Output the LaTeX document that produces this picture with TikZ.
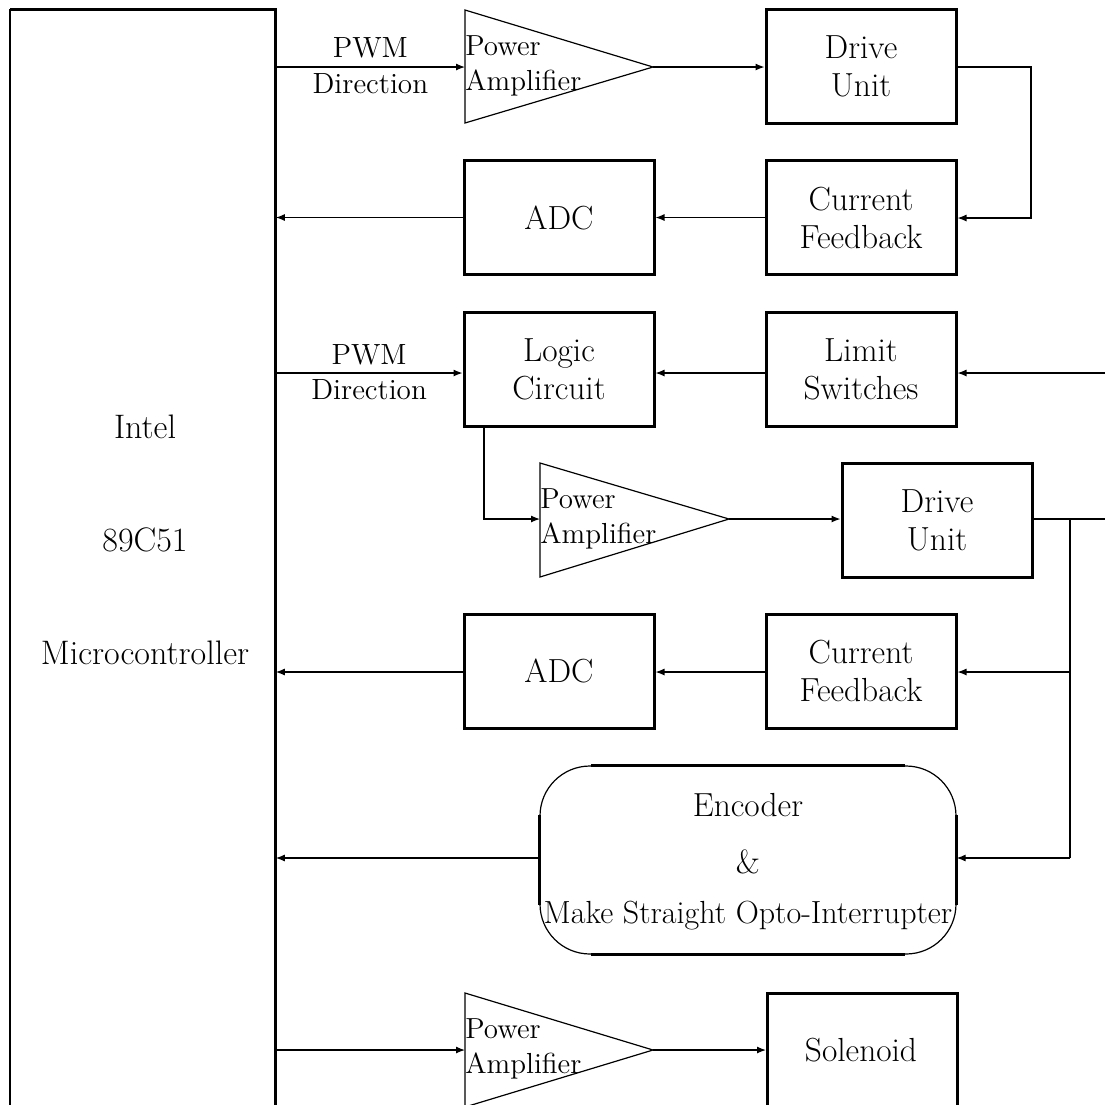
\documentclass[tikz,border=0pt]{standalone}
\usepackage{fontspec}
\usetikzlibrary{arrows.meta}
\begin{document}
\begin{tikzpicture}[x=0.5pt,y=-0.5pt,
 box/.style={draw,line width=1.5pt,minimum width=95pt,minimum height=57pt,align=center,inner sep=0pt,font=\fontsize{16.7}{19}\selectfont},
 ampshape/.style={draw,line width=0.6pt},
 amptext/.style={anchor=west,align=left,inner sep=0pt,font=\fontsize{14.5}{17.5}\selectfont},
 conn/.style={line width=0.6pt},
 arr/.style={conn,-{Latex[length=4.5pt,width=3.5pt]}},
 lbl/.style={font=\fontsize{14.6}{17}\selectfont,inner sep=0pt}]
\clip (0,0) rectangle (1105,1105);
% microcontroller
\node[draw=none,minimum width=132.5pt,minimum height=600pt,anchor=north west,inner sep=0pt] (mcu) at (10,9) {};
\draw[line width=1pt] (mcu.south west) -- (mcu.north west);
\draw[line width=1.5pt] (mcu.north west) -- (mcu.north east) -- (mcu.south east);
\node[font=\fontsize{17}{56.5}\selectfont,align=center,inner sep=0pt] (mcutext) at (145,540) {Intel\\89C51\\Microcontroller};
% row 1
\draw[ampshape] (465,10) -- (653,67) -- (465,123) -- cycle;
\coordinate (pa1in) at (465,67);
\coordinate (pa1out) at (653,67);
\node[amptext] (pa1) at (465,66) {Power\\Amplifier};
\node[box] (du1) at (861,66.5) {Drive\\Unit};
\node[box] (cf1) at (861,217.5) {Current\\Feedback};
\node[box] (adc1) at (559,217.5) {ADC};
% row 2
\node[box] (lc) at (559,369.5) {Logic\\Circuit};
\node[box] (ls) at (861,369.5) {Limit\\Switches};
\draw[ampshape] (540,463) -- (729,519) -- (540,577) -- cycle;
\coordinate (pa2in) at (540,519);
\coordinate (pa2out) at (729,519);
\node[amptext] (pa2) at (540,519) {Power\\Amplifier};
\node[box] (du2) at (937,520.5) {Drive\\Unit};
\node[box] (adc2) at (559,671) {ADC};
\node[box] (cf2) at (861,671) {Current\\Feedback};
\node[draw,line width=0.6pt,rounded corners=25pt,minimum width=208pt,minimum height=94pt,inner sep=0pt] (enc) at (748,860) {};
\node[font=\fontsize{16.7}{19}\selectfont,inner sep=0pt] (enc1) at (748,805) {Encoder};
\node[font=\fontsize{16.7}{19}\selectfont,inner sep=0pt] (enc2) at (748,862) {\&};
\node[font=\fontsize{16}{19}\selectfont,inner sep=0pt] (enc3) at (748,916) {Make Straight Opto-Interrupter};
\draw[line width=1.5pt] ([xshift=26pt]enc.north west) -- ([xshift=-26pt]enc.north east);
\draw[line width=1.5pt] ([xshift=26pt]enc.south west) -- ([xshift=-26pt]enc.south east);
\draw[line width=1.5pt] ([yshift=-25pt]enc.north west) -- ([yshift=25pt]enc.south west);
\draw[line width=1.5pt] ([yshift=-25pt]enc.north east) -- ([yshift=25pt]enc.south east);
% row 3
\draw[ampshape] (465,993) -- (653,1050) -- (465,1107) -- cycle;
\coordinate (pa3in) at (465,1050);
\coordinate (pa3out) at (653,1050);
\node[amptext] (pa3) at (465,1049) {Power\\Amplifier};
\node[box,anchor=north west,minimum height=70pt] (sol) at (766,992) {};
\node[font=\fontsize{16.7}{19}\selectfont,inner sep=0pt] (soltext) at (861,1050) {Solenoid};
% coordinates at the edges
\coordinate (lsin) at (1115,373);
\coordinate (du2out) at (1115,519);
\coordinate (j1) at (1070,519);
\coordinate (j2) at (1070,672);
\coordinate (j3) at (1070,858);
\coordinate (loop1) at (1031,67);
\coordinate (loop2) at (1031,218);
% connectors
\draw[arr] (mcu.east |- pa1in) -- (pa1in)
  node[midway,lbl,yshift=9.5pt] {PWM}
  node[midway,lbl,yshift=-8.5pt] {Direction};
\draw[arr] (pa1out) -- (du1.west |- pa1out);
\draw[arr] (du1.east |- loop1) -- (loop1) -- (loop2) -- (cf1.east |- loop2);
\draw[arr] (cf1.west) -- (adc1.east);
\draw[arr] (adc1.west) -- (mcu.east |- adc1.west);
\draw[arr] (mcu.east |- 0,373) -- (lc.west |- 0,373)
  node[midway,lbl,yshift=9pt] {PWM}
  node[midway,lbl,yshift=-8.5pt] {Direction};
\draw[arr] (lsin) -- (ls.east |- lsin);
\draw[arr] (ls.west |- lsin) -- (lc.east |- lsin);
\draw[arr] (lc.south west -| 484,0) |- (pa2in);
\draw[arr] (pa2out) -- (du2.west |- pa2out);
\draw[conn] (du2.east |- du2out) -- (du2out);
\draw[conn] (j1) -- (j3);
\draw[arr] (j2) -- (cf2.east |- j2);
\draw[arr] (j3) -- (enc.east |- j3);
\draw[arr] (cf2.west |- j2) -- (adc2.east |- j2);
\draw[arr] (adc2.west |- j2) -- (mcu.east |- j2);
\draw[arr] (enc.west |- j3) -- (mcu.east |- j3);
\draw[arr] (mcu.east |- pa3in) -- (pa3in);
\draw[arr] (pa3out) -- (sol.west |- pa3out);
\end{tikzpicture}
\end{document}
